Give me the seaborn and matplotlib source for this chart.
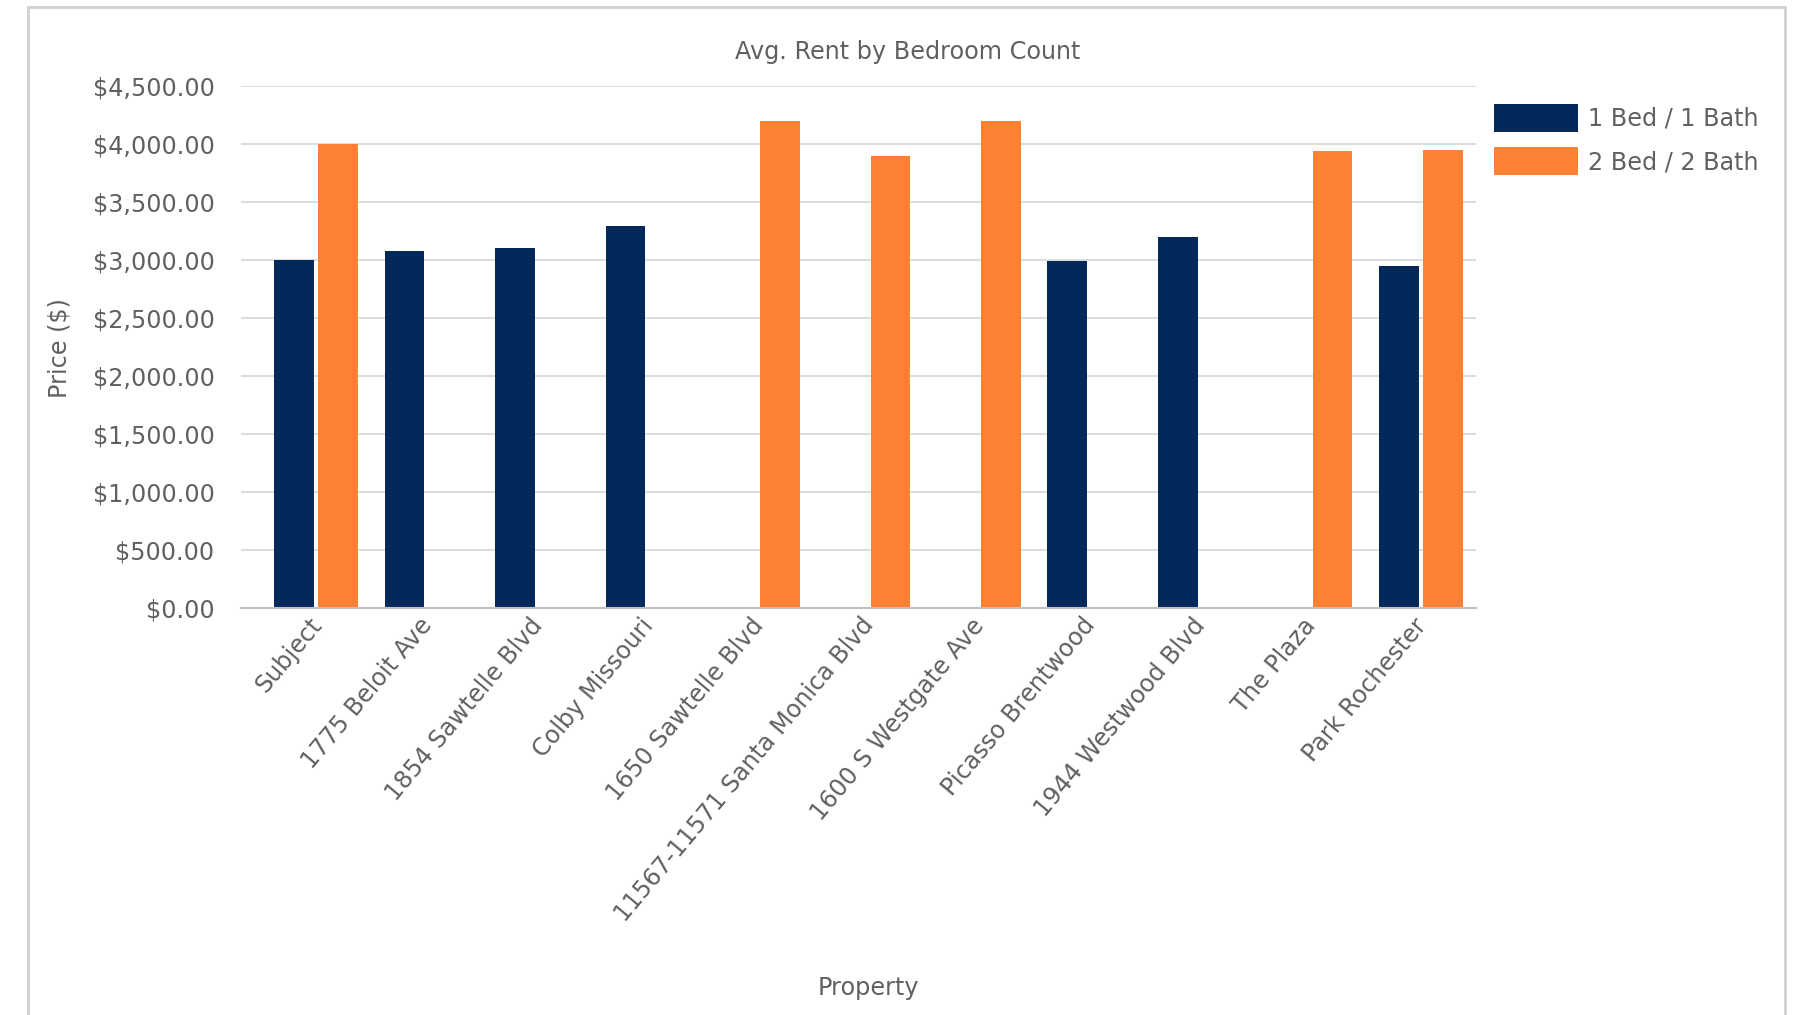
import numpy as np
import pandas as pd
import matplotlib
matplotlib.use("Agg")
import matplotlib.pyplot as plt
import matplotlib.transforms as mtransforms
from matplotlib.patches import Patch, Rectangle
from matplotlib.ticker import FuncFormatter, MultipleLocator
import seaborn as sns

# Average rent per property and unit type
properties = [
    "Subject", "1775 Beloit Ave", "1854 Sawtelle Blvd", "Colby Missouri",
    "1650 Sawtelle Blvd", "11567-11571 Santa Monica Blvd", "1600 S Westgate Ave",
    "Picasso Brentwood", "1944 Westwood Blvd", "The Plaza", "Park Rochester",
]
one_bed = [3000, 3075, 3100, 3295, np.nan, np.nan, np.nan, 2990, 3200, np.nan, 2950]
two_bed = [4000, np.nan, np.nan, np.nan, 4195, 3895, 4195, np.nan, np.nan, 3940, 3950]
unit_types = ["1 Bed / 1 Bath", "2 Bed / 2 Bath"]
colors = ["#03295a", "#fd8133"]

df = pd.DataFrame({
    "Property": properties * 2,
    "Unit": [unit_types[0]] * len(properties) + [unit_types[1]] * len(properties),
    "Price": one_bed + two_bed,
}).dropna()

sns.set_theme(style="white")
plt.rcParams["font.family"] = ["DejaVu Sans"]
text_color = "#606060"
fs = 17.2

W, H = 1795, 1015
fig = plt.figure(figsize=(W / 100, H / 100), dpi=100)
fig.patch.set_facecolor("white")

ax_left, ax_right, ax_top, ax_bottom = 241, 1476, 86, 608
ax = fig.add_axes([ax_left / W, 1 - ax_bottom / H,
                   (ax_right - ax_left) / W, (ax_bottom - ax_top) / H])

sns.barplot(data=df, x="Property", y="Price", hue="Unit",
            order=properties, hue_order=unit_types, palette=colors,
            saturation=1, width=0.8, gap=0.1, errorbar=None, linewidth=0,
            legend=False, ax=ax)

ax.set_ylim(0, 4500)
ax.set_xlim(-0.68, len(properties) - 0.5)
ax.yaxis.set_major_locator(MultipleLocator(500))
ax.yaxis.set_major_formatter(FuncFormatter(lambda v, p: f"${v:,.2f}"))
ax.yaxis.grid(True, color="#dcdcdc", linewidth=1.4)
ax.xaxis.grid(False)
ax.set_axisbelow(True)
for side in ["left", "top", "right"]:
    ax.spines[side].set_visible(False)
ax.spines["bottom"].set_color("#c0c0c0")
ax.spines["bottom"].set_linewidth(1.5)

ax.tick_params(axis="y", length=0, pad=19, labelsize=fs, labelcolor=text_color)
ax.tick_params(axis="x", length=0, pad=4, labelsize=fs, labelcolor=text_color)
ax.set_xticks(range(len(properties)))
ax.set_xticklabels(properties, rotation=50, ha="right", va="top",
                   rotation_mode="anchor")
shift = mtransforms.ScaledTranslation(-8 / 100, 0, fig.dpi_scale_trans)
for lbl in ax.get_xticklabels():
    lbl.set_transform(lbl.get_transform() + shift)

ax.set_xlabel("")
ax.set_ylabel("")

fig.text(908 / W, 1 - 52 / H, "Avg. Rent by Bedroom Count",
         ha="center", va="center", fontsize=fs, color=text_color)
fig.text(868 / W, 1 - 988 / H, "Property",
         ha="center", va="center", fontsize=fs, color=text_color)
fig.text(59 / W, 1 - 348 / H, "Price ($)", rotation=90,
         ha="center", va="center", fontsize=fs, color=text_color)

handles = [Patch(facecolor=c, edgecolor="none") for c in colors]
fig.legend(handles, unit_types, loc="upper left",
           bbox_to_anchor=(1494 / W, 1 - 104 / H), frameon=False,
           fontsize=fs, labelcolor=text_color, borderpad=0, borderaxespad=0,
           handlelength=3.5, handleheight=1.4, handletextpad=0.45,
           labelspacing=0.66)

# Light chart frame
frame = Rectangle((28 / W, -0.05), (1785 - 28) / W, (1 - 7 / H) + 0.05,
                  transform=fig.transFigure, fill=False,
                  edgecolor="#d0d0d0", linewidth=2)
fig.add_artist(frame)

fig.savefig("out.png", dpi=100)
